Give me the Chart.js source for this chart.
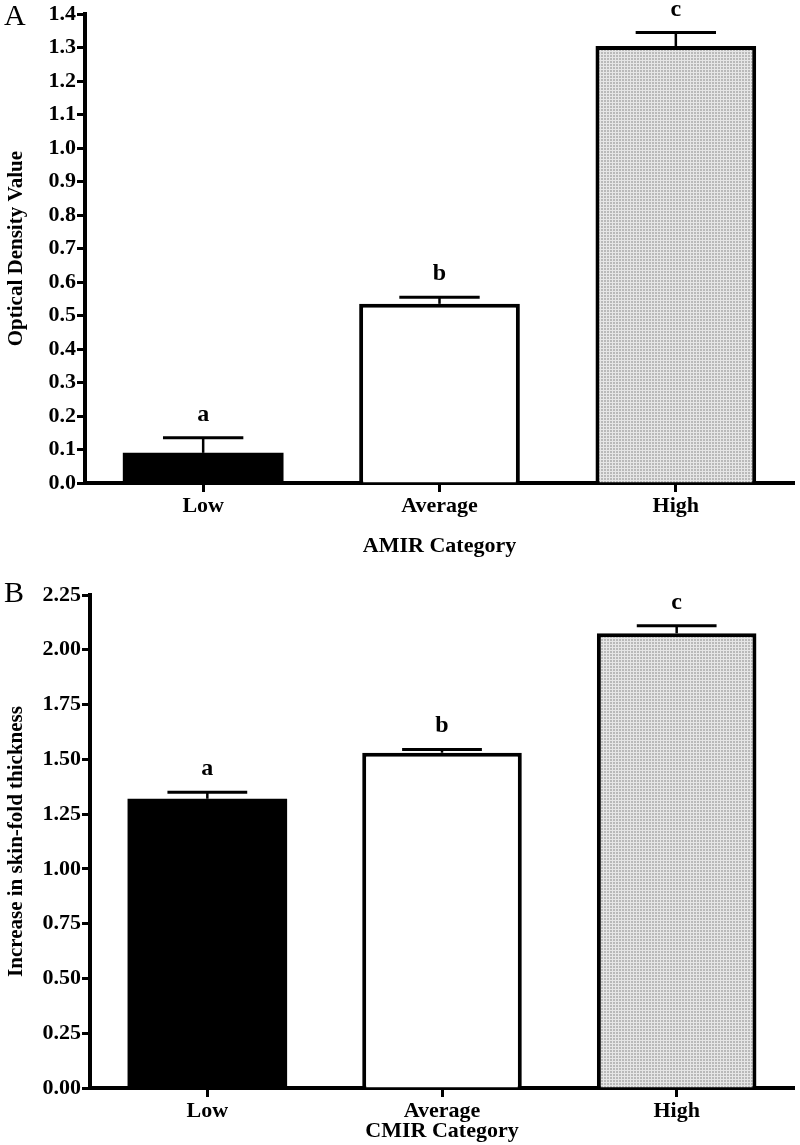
<!DOCTYPE html>
<html>
<head>
<meta charset="utf-8">
<script src="https://cdn.jsdelivr.net/npm/chart.js@4.4.1/dist/chart.umd.min.js"></script>
<style>
  body { margin: 0; background: #fff; width: 800px; height: 1145px; overflow: hidden; position: relative; }
  .panel { position: absolute; left: 0; width: 800px; }
  .tag { position: absolute; font-family: "Liberation Serif", serif; font-size: 30px; color: #000; }
</style>
</head>
<body>
<div class="panel" style="top:0;height:560px"><canvas id="chartA"></canvas></div>
<div class="panel" style="top:560px;height:585px"><canvas id="chartB"></canvas></div>
<div class="tag" style="left:4px;top:-2px">A</div>
<div class="tag" style="left:4px;top:575px">B</div>
<script>
// data
const categories = ['Low', 'Average', 'High'];
const amirMeans = [0.09, 0.535, 1.305];
const amirErrors = [0.045, 0.02, 0.04];
const cmirMeans = [1.32, 1.53, 2.075];
const cmirErrors = [0.03, 0.015, 0.035];
const sigLetters = ['a', 'b', 'c'];

const serif = '"Liberation Serif", "Times New Roman", serif';

// grey cross-hatch fill for the "High" bar
function hatchPattern() {
    const c = document.createElement('canvas');
    c.width = 3; c.height = 3;
    const g = c.getContext('2d');
    g.fillStyle = '#b9b9b9';
    g.fillRect(0, 0, 3, 3);
    g.fillStyle = '#e6e6e6';
    g.fillRect(0, 0, 3, 1);
    g.fillRect(0, 0, 1, 3);
    return g.createPattern(c, 'repeat');
}

// error bars (upper only) + significance letters
const errorBarPlugin = {
    id: 'errorBars',
    afterDatasetsDraw(chart, args, opts) {
        const ctx = chart.ctx;
        const meta = chart.getDatasetMeta(0);
        const y = chart.scales.y;
        const values = chart.data.datasets[0].data;
        ctx.save();
        ctx.strokeStyle = '#000';
        meta.data.forEach((bar, i) => {
            const top = y.getPixelForValue(values[i]);
            const capY = y.getPixelForValue(values[i] + opts.errors[i]);
            const half = bar.width / 4;
            ctx.lineWidth = 2.5;
            ctx.beginPath();
            ctx.moveTo(bar.x, top);
            ctx.lineTo(bar.x, capY);
            ctx.stroke();
            ctx.lineWidth = 3;
            ctx.beginPath();
            ctx.moveTo(bar.x - half, capY);
            ctx.lineTo(bar.x + half, capY);
            ctx.stroke();
            ctx.fillStyle = '#000';
            ctx.font = 'bold 24px ' + serif;
            ctx.textAlign = 'center';
            ctx.textBaseline = 'alphabetic';
            ctx.fillText(opts.letters[i], bar.x, capY - 17);
        });
        ctx.restore();
    }
};

function makeChart(id, means, errors, yMax, step, digits, yTitle, xTitle, pad, yWidth, xHeight, titleGap) {
    const hatch = hatchPattern();
    return new Chart(document.getElementById(id), {
        type: 'bar',
        data: {
            labels: categories,
            datasets: [{
                data: means,
                backgroundColor: ['#000', '#fff', hatch],
                borderColor: '#000',
                borderWidth: [0, 4, 4],
                borderSkipped: 'bottom',
                categoryPercentage: 1,
                barPercentage: 0.68
            }]
        },
        options: {
            responsive: true,
            maintainAspectRatio: false,
            animation: false,
            layout: { padding: pad },
            plugins: {
                legend: { display: false },
                tooltip: { enabled: false },
                errorBars: { errors: errors, letters: sigLetters }
            },
            scales: {
                x: {
                    grid: { display: true, drawOnChartArea: false, offset: false, tickLength: 9, tickWidth: 3, color: '#000' },
                    border: { width: 4, color: '#000' },
                    ticks: { color: '#000', padding: 1, font: { family: serif, size: 22, weight: 'bold' } },
                    title: { display: true, text: xTitle, color: '#000', padding: { top: titleGap, bottom: 0 },
                             font: { family: serif, size: 22, weight: 'bold' } },
                    afterFit(scale) { scale.height = xHeight; }
                },
                y: {
                    min: 0,
                    max: yMax,
                    grid: { display: true, drawOnChartArea: false, tickLength: 8, tickWidth: 3, color: '#000' },
                    border: { width: 4, color: '#000' },
                    ticks: { stepSize: step, color: '#000', padding: 1,
                             font: { family: serif, size: 22, weight: 'bold' },
                             callback: v => v.toFixed(digits) },
                    title: { display: true, text: yTitle, color: '#000', padding: { top: 4, bottom: 0 },
                             font: { family: serif, size: 21, weight: 'bold' } },
                    afterFit(scale) { scale.width = yWidth; }
                }
            }
        },
        plugins: [errorBarPlugin]
    });
}

makeChart('chartA', amirMeans, amirErrors, 1.4, 0.1, 1,
    'Optical Density Value', 'AMIR Category',
    { top: 2, right: 6, left: 0, bottom: 0 }, 85, 77, 4);

makeChart('chartB', cmirMeans, cmirErrors, 2.25, 0.25, 2,
    'Increase in skin-fold thickness', 'CMIR Category',
    { top: 35, right: 6, left: 0, bottom: 0 }, 90, 57, 0);
</script>
</body>
</html>
